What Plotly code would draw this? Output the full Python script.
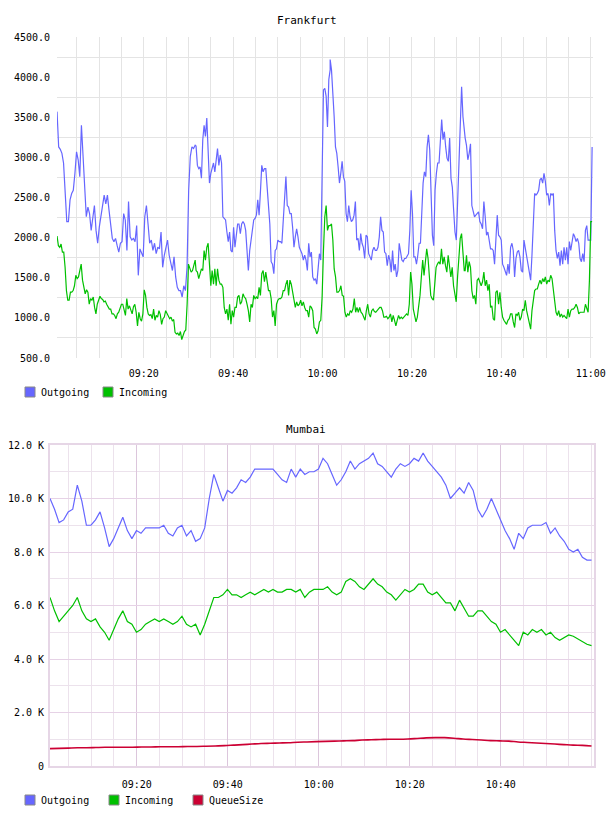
import numpy as np
import pandas as pd
import plotly.graph_objects as go

BASE = pd.Timestamp("2024-01-01 09:00:00")

# ---------------- Frankfurt (values read in 4 consecutive time segments) ----------------
fra_segments = [(0.6, 31.5), (31.7, 61.7), (61.7, 91.7), (91.9, 120.3)]  # minutes after 09:00

fra_out_1 = [3570, 3130, 3100, 3050, 2930, 2590, 2200, 2200, 2470, 2550, 2590, 2800, 3070, 2970, 2760,
             3400, 2970, 2590, 2260, 2380, 2300, 2090, 2260, 2400, 2090, 1930, 2130, 2260, 2380, 2530,
             2420, 2530, 2340, 2130, 1990, 1950, 1990, 1900, 1820, 1930, 1950, 2300, 2220, 1840, 2450,
             2010, 1970, 1990, 1950, 2150, 1530, 1860, 1820, 1760, 2260, 2400, 2170, 1930, 1970, 1840,
             1930, 1800, 1880, 1860, 2070, 1630, 1780, 1880, 1970, 1780, 1670, 1590, 1760, 1510, 1380,
             1340, 1340, 1260, 1400, 1340, 1630, 2590, 3010, 3130, 3110, 3150]
fra_out_2 = [3140, 2900, 2860, 2880, 2740, 3220, 3400, 3260, 3490, 3150, 2680, 2800, 2880, 2930, 2820,
             2950, 3110, 2900, 3030, 2930, 2260, 2240, 2220, 2070, 1950, 2070, 1840, 1820, 2130, 1880,
             2070, 2170, 2170, 2050, 2170, 2200, 2170, 2090, 1840, 1590, 1840, 1970, 2150, 2220, 2240,
             2280, 2470, 2280, 2570, 2900, 2820, 2860, 2860, 2590, 2340, 2170, 1700, 1670, 1550, 1840,
             1860, 1970, 1950, 1950, 1930, 2220, 2590, 2760, 2400, 2380, 2300, 2300, 2130, 1880, 2010,
             2110, 2010, 1880, 1840, 1800, 1720, 1780, 1720, 1590, 1930, 1760, 1820, 1510, 1470, 1490,
             1420, 1630, 1800, 1720, 2590, 3840, 3860, 3760, 3380, 3970, 4090]
fra_out_3 = [4220, 4090, 3840, 3510, 3130, 3050, 2880, 2680, 2800, 2950, 2760, 2700, 2300, 2200, 2400,
             2260, 2200, 2220, 2280, 2450, 1970, 1990, 1840, 2050, 1930, 1880, 1740, 2030, 2010, 1800,
             1760, 1720, 1840, 1880, 1840, 1840, 1880, 2010, 2260, 2090, 2070, 1820, 1800, 1650, 1780,
             1720, 1570, 1840, 1590, 1670, 1510, 1590, 1930, 1800, 1720, 1700, 1740, 1740, 1780, 1800,
             2090, 2590, 2300, 1760, 1760, 1670, 1780, 1930, 1930, 2380, 2680, 2820, 2760, 3130, 3280,
             3090, 2590, 2030, 1900, 2590, 2800, 2930, 2930, 3150, 3470, 3220, 3320, 3130, 2990, 2950,
             3240, 2740, 2630, 2340, 2070, 1970, 2450, 3010, 3470, 3880, 3510, 3300]
fra_out_4 = [3240, 3150, 2970, 3050, 3170, 2400, 2340, 2260, 2280, 2300, 2320, 2200, 2170, 2110, 2450,
             2260, 2030, 2070, 1950, 1860, 1860, 1840, 1670, 2010, 2280, 2030, 2010, 1970, 1670, 1630,
             1590, 1530, 1670, 1550, 1880, 1930, 1840, 1510, 1740, 1820, 1840, 1760, 1590, 1570, 1970,
             1860, 1780, 1630, 1550, 1470, 1780, 2130, 2550, 2530, 2550, 2590, 2720, 2740, 2680, 2800,
             2700, 2530, 2550, 2400, 2550, 2530, 2550, 2090, 1840, 1740, 1820, 1650, 1840, 1670, 1880,
             1720, 1880, 1670, 1950, 1840, 1950, 2050, 2010, 1950, 1990, 1930, 1740, 1700, 1800, 1700,
             2090, 2150, 1970, 1970, 1970, 3130]

fra_in_1 = [2020, 1900, 1880, 1920, 1820, 1820, 1630, 1340, 1220, 1220, 1320, 1320, 1340, 1400, 1530,
            1490, 1510, 1610, 1670, 1470, 1360, 1300, 1350, 1320, 1170, 1240, 1220, 1260, 1130, 1050,
            1170, 1220, 1270, 1240, 1230, 1200, 1210, 1170, 1140, 1110, 1110, 1050, 1050, 1030, 990,
            1050, 1070, 1110, 1170, 1170, 1090, 1030, 1240, 1110, 1150, 1090, 1050, 1140, 1170, 1070,
            900, 1070, 990, 960, 1050, 1350, 1280, 1130, 1050, 1030, 1040, 990, 1110, 970, 1030,
            1010, 1090, 1040, 920, 990, 1010, 1090, 1050, 1010, 990, 1010, 960, 980, 820, 800,
            810, 780, 830, 730, 800, 830, 850, 1170, 1670, 1610, 1570, 1590, 1670, 1720]
fra_in_2 = [1590, 1570, 1490, 1570, 1610, 1590, 1840, 1720, 1880, 1930, 1630, 1400, 1590, 1420, 1610,
            1400, 1610, 1470, 1420, 1420, 1380, 1130, 1050, 1110, 970, 1170, 920, 1090, 1010, 1130,
            1130, 1260, 1280, 1170, 1200, 1300, 1260, 1240, 1170, 1090, 950, 1170, 1130, 1280, 1240,
            1260, 1240, 1380, 1280, 1550, 1590, 1450, 1570, 1420, 1340, 1340, 1240, 1010, 1090, 900,
            1170, 1220, 1240, 1240, 1260, 1340, 1340, 1420, 1470, 1280, 1470, 1420, 1320, 1240, 1130,
            1200, 1150, 1170, 1220, 1150, 1200, 1130, 1090, 1090, 1010, 1150, 1130, 1090, 880, 860,
            800, 840, 950, 970, 1260, 1840, 2260, 2400, 2090, 2150, 2150]
fra_in_3 = [2150, 2170, 1970, 1610, 1510, 1320, 1320, 1340, 1400, 1280, 1270, 1070, 1010, 1050, 1030,
            1090, 1070, 1110, 1240, 1070, 1130, 1070, 1130, 1070, 1050, 1010, 970, 1090, 1170, 1050,
            1010, 1090, 1110, 1080, 1070, 1090, 1110, 1130, 1130, 1090, 1010, 1010, 1020, 990, 1010,
            1050, 950, 1030, 970, 900, 970, 1030, 990, 1010, 990, 1010, 1030, 1050, 1030, 1170,
            1570, 1420, 1110, 1010, 950, 1010, 1130, 1280, 1510, 1720, 1530, 1740, 1860, 1740, 1510,
            1280, 1240, 1220, 1420, 1630, 1670, 1700, 1670, 1860, 1670, 1760, 1650, 1570, 1780, 1670,
            1510, 1630, 1400, 1300, 1200, 1510, 1840, 1990, 2050, 1760, 1590]
fra_in_4 = [1590, 1780, 1570, 1700, 1630, 1340, 1240, 1280, 1170, 1470, 1490, 1450, 1400, 1450, 1570,
            1400, 1470, 1340, 1420, 1130, 1150, 990, 970, 1320, 1340, 1170, 1320, 1130, 1010, 970,
            950, 920, 970, 990, 1050, 1050, 950, 880, 1050, 1030, 1070, 970, 1010, 1110, 1090,
            1220, 1090, 1010, 950, 860, 1090, 1240, 1340, 1360, 1360, 1420, 1470, 1420, 1490, 1450,
            1510, 1420, 1470, 1450, 1530, 1490, 1340, 1170, 1070, 1030, 1090, 1010, 1050, 1010, 1030,
            1010, 990, 1110, 1010, 1090, 1110, 1110, 1130, 1170, 1130, 1050, 1070, 1070, 1070, 1070,
            1170, 1110, 1070, 1470, 2200, 2200]

# ---------------- Mumbai (one reading per minute, values in K) ----------------
mum_span = (0.95, 119.95)  # minutes after 09:00
mum_out_k = [10.0, 9.6, 9.1, 9.2, 9.5, 9.6, 10.5, 9.9, 9.0, 9.0, 9.2, 9.5, 8.9, 8.2, 8.5, 8.9, 9.3, 8.8,
             8.5, 8.8, 8.7, 8.9, 8.9, 8.9, 8.9, 9.0, 8.7, 8.6, 8.9, 9.0, 8.6, 8.8, 8.4, 8.5, 8.9, 10.0,
             10.9, 10.4, 9.9, 10.3, 10.2, 10.4, 10.7, 10.6, 10.8, 11.1, 11.1, 11.1, 11.1, 11.1, 10.9,
             10.7, 10.6, 11.1, 10.8, 11.1, 10.9, 11.0, 11.0, 11.1, 11.5, 11.3, 10.9, 10.5, 10.7, 11.0,
             11.4, 11.1, 11.3, 11.4, 11.5, 11.7, 11.3, 11.2, 11.0, 10.8, 11.1, 11.3, 11.2, 11.3, 11.5,
             11.4, 11.7, 11.4, 11.2, 11.0, 10.8, 10.5, 10.0, 10.2, 10.4, 10.2, 10.6, 10.3, 9.6, 9.3,
             9.6, 10.0, 9.6, 9.2, 8.8, 8.5, 8.1, 8.7, 8.5, 8.9, 9.0, 9.0, 9.0, 9.1, 8.7, 8.9, 8.6, 8.4,
             8.1, 8.0, 8.1, 7.8, 7.7, 7.7]
mum_in_k = [6.3, 5.8, 5.4, 5.6, 5.8, 6.0, 6.3, 5.8, 5.5, 5.4, 5.5, 5.2, 5.0, 4.7, 5.1, 5.5, 5.8, 5.4,
            5.3, 5.0, 5.1, 5.3, 5.4, 5.5, 5.4, 5.5, 5.4, 5.3, 5.4, 5.6, 5.3, 5.2, 5.3, 4.9, 5.3, 5.8,
            6.3, 6.3, 6.4, 6.6, 6.4, 6.4, 6.3, 6.4, 6.5, 6.4, 6.5, 6.6, 6.5, 6.6, 6.5, 6.5, 6.6, 6.6,
            6.5, 6.6, 6.3, 6.5, 6.6, 6.6, 6.6, 6.7, 6.5, 6.4, 6.5, 6.9, 7.0, 6.9, 6.7, 6.6, 6.8, 7.0,
            6.8, 6.7, 6.5, 6.4, 6.2, 6.4, 6.6, 6.5, 6.6, 6.8, 6.8, 6.5, 6.4, 6.5, 6.3, 6.1, 6.1, 5.8,
            6.2, 5.9, 5.6, 5.6, 5.8, 5.8, 5.6, 5.4, 5.3, 5.0, 5.1, 4.9, 4.7, 4.5, 5.0, 4.9, 5.1, 5.0,
            5.1, 4.9, 5.0, 4.8, 4.7, 4.8, 4.9, 4.85, 4.75, 4.65, 4.55, 4.5]
mum_queue_k = [0.65, 0.66, 0.67, 0.68, 0.68, 0.69, 0.70, 0.70, 0.70, 0.70, 0.71, 0.71, 0.72, 0.72, 0.72,
               0.73, 0.73, 0.74, 0.75, 0.76, 0.78, 0.80, 0.82, 0.84, 0.85, 0.86, 0.87, 0.89, 0.90, 0.91,
               0.92, 0.93, 0.94, 0.95, 0.97, 0.98, 0.99, 1.00, 1.00, 1.01, 1.03, 1.05, 1.06, 1.06, 1.04,
               1.01, 0.99, 0.97, 0.95, 0.94, 0.93, 0.90, 0.88, 0.86, 0.84, 0.82, 0.80, 0.78, 0.77, 0.75]

fra_yticks = [500, 1000, 1500, 2000, 2500, 3000, 3500, 4000, 4500]
mum_yticks = [0, 2000, 4000, 6000, 8000, 10000, 12000]
mum_yticktext = ["0", "2.0 K", "4.0 K", "6.0 K", "8.0 K", "10.0 K", "12.0 K"]
fra_xticks = ["09:20", "09:40", "10:00", "10:20", "10:40", "11:00"]
mum_xticks = ["09:20", "09:40", "10:00", "10:20", "10:40"]
fra_legend = ["Outgoing", "Incoming"]
mum_legend = ["Outgoing", "Incoming", "QueueSize"]

C_OUT = "#6666ff"
C_IN = "#00c000"
C_Q = "#cc0033"
FONT = "DejaVu Sans Mono"
W, H = 608, 816


def t(m):
    return BASE + pd.to_timedelta(m, unit="min")


def seg_series(seg_lists, bounds):
    xs, ys = [], []
    for vals, (a, b) in zip(seg_lists, bounds):
        xs.extend(list(t(np.linspace(a, b, len(vals)))))
        ys.extend(vals)
    return xs, ys


def hm(s):
    h, m = s.split(":")
    return BASE.replace(hour=int(h), minute=int(m))


fig = go.Figure()

x_o, y_o = seg_series([fra_out_1, fra_out_2, fra_out_3, fra_out_4], fra_segments)
x_i, y_i = seg_series([fra_in_1, fra_in_2, fra_in_3, fra_in_4], fra_segments)
fig.add_trace(go.Scatter(x=x_o, y=y_o, mode="lines", name="Outgoing",
                         line=dict(color=C_OUT, width=1.2), showlegend=False, xaxis="x", yaxis="y"))
fig.add_trace(go.Scatter(x=x_i, y=y_i, mode="lines", name="Incoming",
                         line=dict(color=C_IN, width=1.2), showlegend=False, xaxis="x", yaxis="y"))

mx = list(t(np.linspace(mum_span[0], mum_span[1], len(mum_out_k))))
mq = list(t(np.linspace(mum_span[0], mum_span[1], len(mum_queue_k))))
fig.add_trace(go.Scatter(x=mx, y=[v * 1000 for v in mum_out_k], mode="lines", name="Outgoing",
                         line=dict(color=C_OUT, width=1.2), showlegend=False, xaxis="x2", yaxis="y2"))
fig.add_trace(go.Scatter(x=mx, y=[v * 1000 for v in mum_in_k], mode="lines", name="Incoming",
                         line=dict(color=C_IN, width=1.2), showlegend=False, xaxis="x2", yaxis="y2"))
fig.add_trace(go.Scatter(x=mq, y=[v * 1000 for v in mum_queue_k], mode="lines", name="QueueSize",
                         line=dict(color=C_Q, width=1.6, shape="spline"), showlegend=False,
                         xaxis="x2", yaxis="y2"))

# legend: square swatches + labels
shapes, annotations = [], []
fra_leg_x = [25, 103]
mum_leg_x = [25, 109, 193]
for names, xs, cy, cols in [(fra_legend, fra_leg_x, 392, [C_OUT, C_IN]),
                            (mum_legend, mum_leg_x, 800, [C_OUT, C_IN, C_Q])]:
    for name, x0, col in zip(names, xs, cols):
        shapes.append(dict(type="rect", xref="paper", yref="paper",
                           x0=x0 / W, x1=(x0 + 10) / W, y0=1 - (cy + 5) / H, y1=1 - (cy - 5) / H,
                           fillcolor=col, line=dict(color="#888888", width=1)))
        annotations.append(dict(text=name, x=(x0 + 14) / W, y=1 - cy / H, xref="paper", yref="paper",
                                xanchor="left", yanchor="middle", showarrow=False,
                                font=dict(family=FONT, size=10, color="#000000")))

annotations += [
    dict(text="Frankfurt", x=307 / W, y=1 - 20 / H, xref="paper", yref="paper", xanchor="center",
         yanchor="middle", showarrow=False, font=dict(family=FONT, size=11, color="#000000")),
    dict(text="Mumbai", x=306 / W, y=1 - 429 / H, xref="paper", yref="paper", xanchor="center",
         yanchor="middle", showarrow=False, font=dict(family=FONT, size=11, color="#000000")),
]

tickfont = dict(family=FONT, size=10, color="#000000")
fig.update_layout(
    template="none",
    width=W, height=H, margin=dict(l=0, r=0, t=0, b=0, autoexpand=False),
    paper_bgcolor="white", plot_bgcolor="white", showlegend=False,
    xaxis=dict(domain=[57 / W, 593 / W], anchor="y", type="date", automargin=False,
               range=[t(0.59), t(120.5)],
               tickmode="array", tickvals=[hm(s) for s in fra_xticks], ticktext=fra_xticks,
               showgrid=True, gridcolor="#e4e4e4", gridwidth=1, ticks="", ticklabelstandoff=8,
               minor=dict(tickmode="linear", tick0=BASE, dtick=5 * 60 * 1000, showgrid=True,
                          gridcolor="#e4e4e4", gridwidth=1),
               showline=False, zeroline=False, tickfont=tickfont),
    yaxis=dict(domain=[1 - 358 / H, 1 - 37 / H], anchor="x", range=[500, 4500], automargin=False,
               tickmode="array", tickvals=fra_yticks, tickformat=".1f",
               showgrid=False, ticks="", ticklabelstandoff=6,
               minor=dict(tickmode="linear", tick0=750, dtick=500, showgrid=True,
                          gridcolor="#e4e4e4", gridwidth=1),
               showline=False, zeroline=False, tickfont=tickfont),
    xaxis2=dict(domain=[50 / W, 594 / W], anchor="y2", type="date", automargin=False,
                range=[t(0.95), t(120.5)],
                tickmode="array", tickvals=[hm(s) for s in mum_xticks], ticktext=mum_xticks,
                showgrid=True, gridcolor="#dcc6dc", gridwidth=1, ticks="", ticklabelstandoff=8,
                minor=dict(tickmode="linear", tick0=BASE, dtick=5 * 60 * 1000, showgrid=True,
                           gridcolor="#ece2ec", gridwidth=1),
                showline=True, linecolor="#e6d6e6", linewidth=2, mirror=True,
                zeroline=False, tickfont=tickfont),
    yaxis2=dict(domain=[1 - 766 / H, 1 - 445 / H], anchor="x2", range=[0, 12000], automargin=False,
                tickmode="array", tickvals=mum_yticks, ticktext=mum_yticktext,
                showgrid=True, gridcolor="#e6d2e6", gridwidth=1, ticks="", ticklabelstandoff=2,
                minor=dict(tickmode="linear", tick0=0, dtick=1000, showgrid=True,
                           gridcolor="#ece2ec", gridwidth=1),
                showline=True, linecolor="#e6d6e6", linewidth=2, mirror=True,
                zeroline=False, tickfont=tickfont),
    shapes=shapes,
    annotations=annotations,
)

fig.write_html("out.html")
